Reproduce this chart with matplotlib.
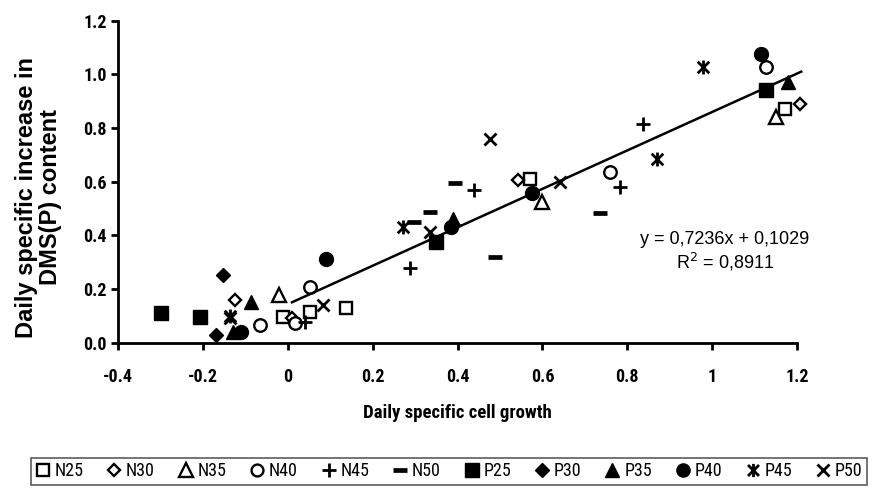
import matplotlib
matplotlib.use("Agg")
import matplotlib.pyplot as plt
from matplotlib import font_manager as fm
from matplotlib.path import Path

names = {f.name for f in fm.fontManager.ttflist}
NARROW = 'Liberation Sans'
for cand in ['Liberation Sans Narrow', 'Arial Narrow', 'Roboto Condensed', 'Open Sans Condensed']:
    if cand in names:
        NARROW = cand
        break
REG = 'Liberation Sans'

# ---- data ----
N25_x = [-0.011, 0.052, 0.138, 0.570, 1.171]
N25_y = [0.096, 0.115, 0.127, 0.611, 0.872]
N30_x = [-0.125, 0.009, 0.543, 1.206]
N30_y = [0.158, 0.090, 0.605, 0.891]
N35_x = [-0.020, 0.598, 1.151]
N35_y = [0.177, 0.524, 0.841]
N40_x = [-0.066, 0.016, 0.052, 0.759, 1.128]
N40_y = [0.065, 0.071, 0.208, 0.636, 1.027]
N45_x = [0.040, 0.287, 0.440, 0.782, 0.837]
N45_y = [0.077, 0.276, 0.568, 0.580, 0.816]
N50_x = [0.297, 0.335, 0.393, 0.488, 0.735]
N50_y = [0.450, 0.487, 0.593, 0.320, 0.483]
P25_x = [-0.298, -0.207, 0.350, 1.128]
P25_y = [0.109, 0.096, 0.375, 0.940]
P30_x = [-0.168, -0.152, 0.390]
P30_y = [0.028, 0.251, 0.440]
P35_x = [-0.130, -0.086, 0.390, 1.179]
P35_y = [0.040, 0.152, 0.460, 0.971]
P40_x = [-0.110, 0.091, 0.385, 0.575, 1.116]
P40_y = [0.040, 0.310, 0.430, 0.556, 1.077]
P45_x = [-0.135, 0.272, 0.869, 0.979]
P45_y = [0.100, 0.431, 0.686, 1.027]
P50_x = [-0.137, 0.083, 0.335, 0.476, 0.641]
P50_y = [0.090, 0.140, 0.413, 0.760, 0.599]

trend_x = [0.01, 1.21]
trend_y = [0.150, 1.010]

series_names = ['N25', 'N30', 'N35', 'N40', 'N45', 'N50',
                'P25', 'P30', 'P35', 'P40', 'P45', 'P50']
x_ticks = [-0.4, -0.2, 0, 0.2, 0.4, 0.6, 0.8, 1, 1.2]
x_ticklabels = ['-0.4', '-0.2', '0', '0.2', '0.4', '0.6', '0.8', '1', '1.2']
y_ticks = [0.0, 0.2, 0.4, 0.6, 0.8, 1.0, 1.2]
y_ticklabels = ['0.0', '0.2', '0.4', '0.6', '0.8', '1.0', '1.2']
eq_text = 'y = 0,7236x + 0,1029'
r2_text = 'R$^2$ = 0,8911'

star = Path([(-1, -1), (1, 1), (-1, 1), (1, -1), (0, -1.2), (0, 1.2)],
            [Path.MOVETO, Path.LINETO, Path.MOVETO, Path.LINETO, Path.MOVETO, Path.LINETO])

data = {
    'N25': (N25_x, N25_y), 'N30': (N30_x, N30_y), 'N35': (N35_x, N35_y),
    'N40': (N40_x, N40_y), 'N45': (N45_x, N45_y), 'N50': (N50_x, N50_y),
    'P25': (P25_x, P25_y), 'P30': (P30_x, P30_y), 'P35': (P35_x, P35_y),
    'P40': (P40_x, P40_y), 'P45': (P45_x, P45_y), 'P50': (P50_x, P50_y),
}
styles = {
    'N25': dict(marker='s', ms=9, mfc='white', mew=1.7),
    'N30': dict(marker='D', ms=6.5, mfc='white', mew=1.7),
    'N35': dict(marker='^', ms=10, mfc='white', mew=1.7),
    'N40': dict(marker='o', ms=9, mfc='white', mew=1.7),
    'N45': dict(marker='+', ms=10, mew=2),
    'N50': dict(marker='_', ms=10, mew=3.4),
    'P25': dict(marker='s', ms=10, mfc='black', mew=1),
    'P30': dict(marker='D', ms=7, mfc='black', mew=1),
    'P35': dict(marker='^', ms=10.5, mfc='black', mew=1),
    'P40': dict(marker='o', ms=10, mfc='black', mew=1),
    'P45': dict(marker=star, ms=10, mfc='none', mew=2),
    'P50': dict(marker='x', ms=9, mew=2),
}

fig = plt.figure(figsize=(8.72, 4.88), dpi=100)
ax = fig.add_axes([118/872, 1-342.5/488, (797-118)/872, (342.5-20.7)/488])

handles = []
for name in series_names:
    xs, ys = data[name]
    h, = ax.plot(xs, ys, linestyle='none', color='black', mec='black',
                 clip_on=False, zorder=2, label=name, **styles[name])
    handles.append(h)

ax.plot(trend_x, trend_y, color='black', lw=1.8, clip_on=False, zorder=3)

ax.set_xlim(-0.4, 1.2)
ax.set_ylim(0, 1.2)
ax.set_xticks(x_ticks)
ax.set_xticklabels(x_ticklabels)
ax.set_yticks(y_ticks)
ax.set_yticklabels(y_ticklabels)
for lab in ax.get_xticklabels() + ax.get_yticklabels():
    lab.set_fontfamily(NARROW)
    lab.set_fontweight('bold')
    lab.set_fontsize(13)

ax.spines['top'].set_visible(False)
ax.spines['right'].set_visible(False)
for s in ('left', 'bottom'):
    ax.spines[s].set_linewidth(2)
    ax.spines[s].set_color('black')
ax.tick_params(axis='both', direction='out', length=5, width=2, color='black')
ax.tick_params(axis='x', pad=13)
ax.tick_params(axis='y', pad=3)

ax.set_xlabel('Daily specific cell growth', fontfamily=NARROW, fontweight='bold', fontsize=13.5)
ax.xaxis.set_label_coords(0.5, -0.19)
ax.set_ylabel('Daily specific increase in\nDMS(P) content', fontfamily=REG,
              fontweight='bold', fontsize=17, linespacing=1.05)
ax.yaxis.set_label_coords(-0.082, 0.452)

ax.text(1.03, 0.385, eq_text, fontfamily=REG, fontsize=13, ha='center', va='center')
ax.text(1.03, 0.30, r2_text, fontfamily=REG, fontsize=13, ha='center', va='center')

leg = fig.legend(handles=handles, labels=series_names, loc='lower left',
                 bbox_to_anchor=(31/872, 3/488, 836/872, 27/488), mode='expand',
                 ncol=12, frameon=True, fancybox=False, edgecolor='#333333',
                 handlelength=0.8, handletextpad=0.25, columnspacing=0.5,
                 borderpad=0.25, borderaxespad=0, markerscale=0.95,
                 prop={'family': NARROW, 'size': 13})
leg.get_frame().set_linewidth(1.2)

fig.savefig('out.png', dpi=100)
